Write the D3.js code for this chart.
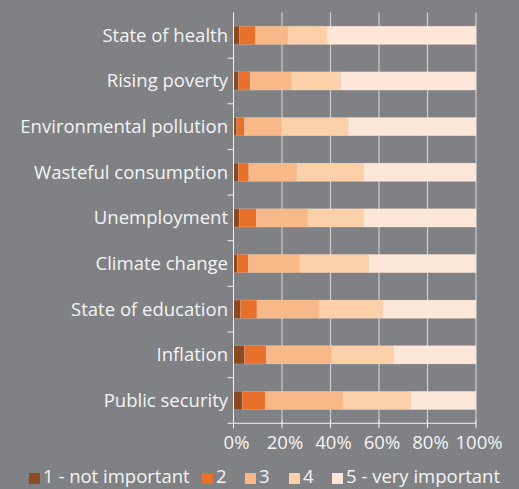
<!DOCTYPE html>
<html><head><meta charset="utf-8">
<script src="https://cdn.jsdelivr.net/npm/d3@7"></script>
<style>
html,body{margin:0;padding:0;background:#808184;}
svg{display:block;}
text{font-family:"Open Sans",sans-serif;fill:#f4f4f4;}
</style></head>
<body>
<svg id="chart" width="519" height="489"></svg>
<script>
const categories = ["State of health","Rising poverty","Environmental pollution","Wasteful consumption","Unemployment","Climate change","State of education","Inflation","Public security"];
const seriesNames = ["1 - not important","2","3","4","5 - very important"];
const s1 = [2.4, 2.1, 1.3, 2.0, 2.4, 1.6, 2.8, 4.5, 3.6];
const s2 = [6.6, 4.8, 3.2, 4.3, 7.0, 4.5, 6.9, 9.0, 9.5];
const s3 = [13.5, 17.2, 15.5, 19.8, 21.3, 21.3, 25.6, 27.0, 32.1];
const s4 = [16.1, 20.1, 27.3, 27.7, 23.1, 28.4, 26.3, 25.7, 27.9];
const s5 = [61.4, 55.8, 52.7, 46.2, 46.2, 44.2, 38.4, 33.8, 26.9];
const tickValues = [0, 20, 40, 60, 80, 100];
const colors = ["#8c4a22","#e8702a","#f9b887","#fcd0a8","#fee7d8"];

(function(){
const series = [s1,s2,s3,s4,s5];
const keys = ["k1","k2","k3","k4","k5"];
const rows = categories.map((c,i)=>{
  const r = {cat:c};
  keys.forEach((k,j)=>r[k]=series[j][i]);
  return r;
});
const stacked = d3.stack().keys(keys)(rows);

const svg = d3.select("#chart");
const mLeft = 233.5, mRight = 476, mTop = 12.5, mBottom = 423.3;
const x = d3.scaleLinear().domain([0,100]).range([mLeft,mRight]);
const y = d3.scaleBand().domain(categories).range([mTop,mBottom]).paddingInner(0.6).paddingOuter(0.3);

// gridlines
svg.append("g").selectAll("line").data(tickValues.slice(1)).join("line")
  .attr("x1",d=>x(d)).attr("x2",d=>x(d)).attr("y1",mTop).attr("y2",mBottom)
  .attr("stroke","#cfcfcf").attr("stroke-width",1.2);

// bars
svg.append("g").selectAll("g").data(stacked).join("g")
  .attr("fill",(d,i)=>colors[i])
  .selectAll("rect").data(d=>d).join("rect")
  .attr("x",d=>x(d[0])).attr("width",d=>x(d[1])-x(d[0]))
  .attr("y",d=>y(d.data.cat)).attr("height",y.bandwidth())
  .attr("stroke","rgba(255,235,220,0.35)").attr("stroke-width",0.6);

// y axis
const band = (mBottom-mTop)/categories.length;
const yAxis = svg.append("g");
yAxis.append("line").attr("x1",mLeft).attr("x2",mLeft).attr("y1",mTop).attr("y2",mBottom+5)
  .attr("stroke","#f2f2f2").attr("stroke-width",1);
yAxis.selectAll("line.t").data(d3.range(1,categories.length)).join("line").attr("class","t")
  .attr("x1",mLeft-6).attr("x2",mLeft).attr("y1",i=>mTop+i*band).attr("y2",i=>mTop+i*band)
  .attr("stroke","#f2f2f2").attr("stroke-width",1);
yAxis.selectAll("text").data(categories).join("text")
  .attr("x",228).attr("y",d=>y(d)+y.bandwidth()/2).attr("dy","0.35em")
  .attr("text-anchor","end").attr("font-size",18.5).text(d=>d);

// x axis
const xAxis = svg.append("g");
xAxis.append("line").attr("x1",mLeft-6).attr("x2",mRight).attr("y1",mBottom).attr("y2",mBottom)
  .attr("stroke","#f2f2f2").attr("stroke-width",1);
xAxis.selectAll("line.t").data(tickValues).join("line").attr("class","t")
  .attr("x1",d=>x(d)).attr("x2",d=>x(d)).attr("y1",mBottom-3).attr("y2",mBottom+5)
  .attr("stroke","#f2f2f2").attr("stroke-width",1);
xAxis.selectAll("text").data(tickValues).join("text")
  .attr("x",d=>x(d)+3).attr("y",449).attr("text-anchor","middle")
  .attr("font-size",18.5).text(d=>d+"%");

// legend
const legendX = [29, 202, 245, 289, 332];
const lg = svg.append("g").selectAll("g").data(seriesNames).join("g")
  .attr("transform",(d,i)=>`translate(${legendX[i]},0)`);
lg.append("rect").attr("x",0).attr("y",473).attr("width",11).attr("height",11)
  .attr("fill",(d,i)=>colors[i]);
lg.append("text").attr("x",14).attr("y",483).attr("font-size",18.5).text(d=>d);
})();
</script>
</body></html>
